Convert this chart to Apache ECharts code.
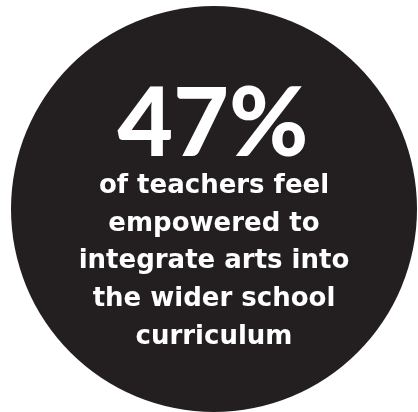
<!DOCTYPE html>
<html>
<head>
<meta charset="utf-8">
<script src="https://cdn.jsdelivr.net/npm/echarts@6/dist/echarts.min.js"></script>
<style>
html,body{margin:0;padding:0;background:#fff;}
#chart{width:418px;height:412px;}
</style>
</head>
<body>
<div id="chart"></div>
<script>
const statValues = [47];
const statLabels = ['47%'];
const captionLines = ['of teachers feel', 'empowered to', 'integrate arts into', 'the wider school', 'curriculum'];

const chart = echarts.init(document.getElementById('chart'), null, {renderer: 'canvas'});
const CAPTION_FONT = '"DejaVu Sans", Lato, sans-serif';
const STAT_FONT = 'Lato, "DejaVu Sans", sans-serif';
const captionGraphics = captionLines.map((line, i) => ({
  type: 'text',
  x: 214,
  y: 186 + i * 37.8,
  z: 100,
  style: {
    text: line,
    fill: '#ffffff',
    fontSize: 26,
    fontWeight: 'bold',
    fontFamily: CAPTION_FONT,
    align: 'center',
    verticalAlign: 'middle'
  }
}));
chart.setOption({
  animation: false,
  series: [{
    type: 'pie',
    silent: true,
    z: 1,
    center: [214, 209],
    radius: [0, 203],
    label: {show: false},
    labelLine: {show: false},
    itemStyle: {color: '#231f20'},
    data: statValues.map(v => ({value: v, name: statLabels[0]}))
  }],
  graphic: {
    elements: [{
      type: 'text',
      x: 213,
      y: 125,
      z: 100,
      style: {
        text: statLabels[0],
        fill: '#ffffff',
        fontSize: 96,
        fontWeight: 900,
        fontFamily: STAT_FONT,
        align: 'center',
        verticalAlign: 'middle'
      }
    }].concat(captionGraphics)
  }
});
</script>
</body>
</html>
